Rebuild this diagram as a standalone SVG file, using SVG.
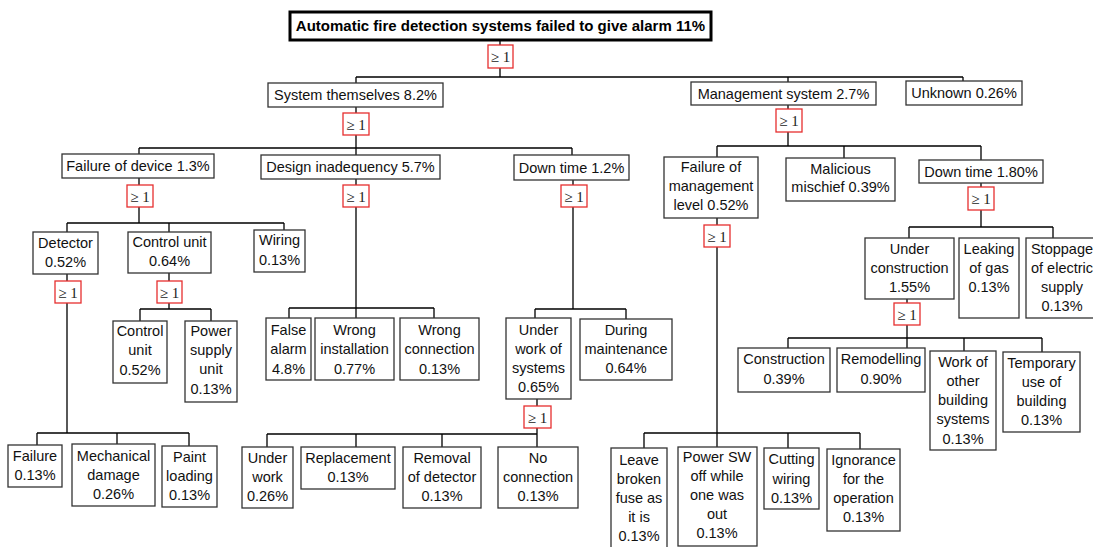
<svg xmlns="http://www.w3.org/2000/svg" width="1093" height="547" viewBox="0 0 1093 547">
<style>
.bg{fill:#fff}
.box{fill:#fff;stroke:#333;stroke-width:1.3}
.top{fill:#fff;stroke:#000;stroke-width:3}
.gate{fill:#fff;stroke:#e62e2e;stroke-width:1.3}
.ln{fill:none;stroke:#000;stroke-width:1.3}
text{font-family:"Liberation Sans",Arial,sans-serif;font-size:14.5px;text-anchor:middle;fill:#111}
.tt{font-weight:bold;font-size:15px;fill:#000}
.gt{font-family:"Liberation Serif","Times New Roman",serif;font-size:15px;fill:#222}
</style>
<rect class="bg" x="0" y="0" width="1093" height="547"/>
<g id="connectors">
<path class="ln" d="M500,40V45M500,68V77M356,77H963M356,77V83M788,77V82M963,77V81"/>
<path class="ln" d="M356,107V113M356,135V148M139,148H572M139,148V154M356,148V155M572,148V155"/>
<path class="ln" d="M788,105V109M788,132V146M717,146H981M717,146V157M844,146V158M981,146V160"/>
<path class="ln" d="M139,178V185M139,207V223M67,223H284M67,223V232M169,223V232M284,223V230"/>
<path class="ln" d="M356,179V185M356,207V318M289,308H434M289,308V318M434,308V318"/>
<path class="ln" d="M573,180V185M573,207V309M535,309H626M535,309V318M626,309V319"/>
<path class="ln" d="M717,218V225M717,247V447M644,433H860M644,433V448M788,433V448M860,433V449"/>
<path class="ln" d="M981,183V187M981,210V227M909,227H1053M909,227V238M1053,227V238"/>
<path class="ln" d="M907,299V303M907,325V348M788,338H1042M788,338V348M964,338V351M1042,338V352"/>
<path class="ln" d="M67,274V281M67,303V433M37,433H189M37,433V445M117,433V444M189,433V446"/>
<path class="ln" d="M169,273V281M169,303V309M140,309H211M140,309V321M211,309V321"/>
<path class="ln" d="M537,399V406M537,428V447M267,434H537M267,434V447M356,434V447M442,434V447"/>
</g>
<g id="gates">
<g id="g0"><rect class="gate" x="488" y="45" width="25" height="23"/><text class="gt" x="500.5" y="62">≥ 1</text></g>
<g id="g1"><rect class="gate" x="343" y="113" width="26" height="22"/><text class="gt" x="356" y="130">≥ 1</text></g>
<g id="g2"><rect class="gate" x="776" y="109" width="26" height="23"/><text class="gt" x="789" y="126">≥ 1</text></g>
<g id="g3"><rect class="gate" x="127" y="185" width="26" height="22"/><text class="gt" x="140" y="202">≥ 1</text></g>
<g id="g4"><rect class="gate" x="343" y="185" width="26" height="22"/><text class="gt" x="356" y="202">≥ 1</text></g>
<g id="g5"><rect class="gate" x="561" y="185" width="26" height="22"/><text class="gt" x="574" y="202">≥ 1</text></g>
<g id="g6"><rect class="gate" x="704" y="225" width="26" height="22"/><text class="gt" x="717" y="242">≥ 1</text></g>
<g id="g7"><rect class="gate" x="968" y="187" width="26" height="23"/><text class="gt" x="981" y="204">≥ 1</text></g>
<g id="g8"><rect class="gate" x="894" y="303" width="26" height="22"/><text class="gt" x="907" y="320">≥ 1</text></g>
<g id="g9"><rect class="gate" x="55" y="281" width="26" height="22"/><text class="gt" x="68" y="298">≥ 1</text></g>
<g id="g10"><rect class="gate" x="157" y="281" width="25" height="22"/><text class="gt" x="169.5" y="298">≥ 1</text></g>
<g id="g11"><rect class="gate" x="524" y="406" width="27" height="22"/><text class="gt" x="537.5" y="423">≥ 1</text></g>
</g>
<g id="n0"><rect class="top" x="290" y="12" width="421" height="28"/><text class="tt" x="500.5" y="31">Automatic fire detection systems failed to give alarm 11%</text></g>
<g id="n1"><rect class="box" x="268" y="83" width="175" height="24"/><text x="355.5" y="100">System themselves 8.2%</text></g>
<g id="n2"><rect class="box" x="691" y="82" width="185" height="23"/><text x="783.5" y="99">Management system 2.7%</text></g>
<g id="n3"><rect class="box" x="906" y="81" width="116" height="24"/><text x="964" y="98">Unknown 0.26%</text></g>
<g id="n4"><rect class="box" x="62" y="154" width="152" height="24"/><text x="138" y="171">Failure of device 1.3%</text></g>
<g id="n5"><rect class="box" x="261" y="155" width="179" height="24"/><text x="350.5" y="172">Design inadequency 5.7%</text></g>
<g id="n6"><rect class="box" x="514" y="155" width="115" height="25"/><text x="571.5" y="172.5">Down time 1.2%</text></g>
<g id="n7"><rect class="box" x="664" y="157" width="94" height="61"/><text x="711" y="172">Failure of</text><text x="711" y="191">management</text><text x="711" y="210">level 0.52%</text></g>
<g id="n8"><rect class="box" x="786" y="158" width="109" height="43"/><text x="840.5" y="173.5">Malicious</text><text x="840.5" y="192">mischief 0.39%</text></g>
<g id="n9"><rect class="box" x="919" y="160" width="124" height="23"/><text x="981" y="177">Down time 1.80%</text></g>
<g id="n10"><rect class="box" x="33" y="232" width="65" height="42"/><text x="65.5" y="247.5">Detector</text><text x="65.5" y="266.5">0.52%</text></g>
<g id="n11"><rect class="box" x="128" y="232" width="83" height="41"/><text x="169.5" y="246.5">Control unit</text><text x="169.5" y="266">0.64%</text></g>
<g id="n12"><rect class="box" x="254" y="230" width="51" height="42"/><text x="279.5" y="245">Wiring</text><text x="279.5" y="264.5">0.13%</text></g>
<g id="n13"><rect class="box" x="266" y="318" width="45" height="62"/><text x="288.5" y="335">False</text><text x="288.5" y="354">alarm</text><text x="288.5" y="373.5">4.8%</text></g>
<g id="n14"><rect class="box" x="315" y="318" width="79" height="62"/><text x="354.5" y="335">Wrong</text><text x="354.5" y="354">installation</text><text x="354.5" y="373.5">0.77%</text></g>
<g id="n15"><rect class="box" x="400" y="318" width="79" height="62"/><text x="439.5" y="335">Wrong</text><text x="439.5" y="354">connection</text><text x="439.5" y="373.5">0.13%</text></g>
<g id="n16"><rect class="box" x="506" y="318" width="65" height="81"/><text x="538.5" y="335">Under</text><text x="538.5" y="354">work of</text><text x="538.5" y="373">systems</text><text x="538.5" y="392">0.65%</text></g>
<g id="n17"><rect class="box" x="580" y="319" width="92" height="61"/><text x="626" y="335">During</text><text x="626" y="354">maintenance</text><text x="626" y="373">0.64%</text></g>
<g id="n18"><rect class="box" x="611" y="448" width="56" height="106"/><text x="639" y="465">Leave</text><text x="639" y="484">broken</text><text x="639" y="503">fuse as</text><text x="639" y="522">it is</text><text x="639" y="541">0.13%</text></g>
<g id="n19"><rect class="box" x="678" y="447" width="79" height="99"/><text x="717" y="462">Power SW</text><text x="717" y="481">off while</text><text x="717" y="500">one was</text><text x="717" y="519">out</text><text x="717" y="538">0.13%</text></g>
<g id="n20"><rect class="box" x="764" y="448" width="55" height="61"/><text x="791.5" y="464">Cutting</text><text x="791.5" y="483.5">wiring</text><text x="791.5" y="502.5">0.13%</text></g>
<g id="n21"><rect class="box" x="827" y="449" width="73" height="82"/><text x="863.5" y="465">Ignorance</text><text x="863.5" y="484">for the</text><text x="863.5" y="503">operation</text><text x="863.5" y="522">0.13%</text></g>
<g id="n22"><rect class="box" x="865" y="238" width="89" height="61"/><text x="909.5" y="253.5">Under</text><text x="909.5" y="272.5">construction</text><text x="909.5" y="291.5">1.55%</text></g>
<g id="n23"><rect class="box" x="959" y="238" width="60" height="80"/><text x="989" y="253.5">Leaking</text><text x="989" y="272.5">of gas</text><text x="989" y="291.5">0.13%</text></g>
<g id="n24"><rect class="box" x="1026" y="238" width="72" height="80"/><text x="1062" y="253.5">Stoppage</text><text x="1062" y="272.5">of electric</text><text x="1062" y="291.5">supply</text><text x="1062" y="310.5">0.13%</text></g>
<g id="n25"><rect class="box" x="738" y="348" width="92" height="44"/><text x="784" y="364">Construction</text><text x="784" y="384">0.39%</text></g>
<g id="n26"><rect class="box" x="837" y="348" width="88" height="44"/><text x="881" y="364">Remodelling</text><text x="881" y="384">0.90%</text></g>
<g id="n27"><rect class="box" x="930" y="351" width="66" height="99"/><text x="963" y="367">Work of</text><text x="963" y="386">other</text><text x="963" y="405">building</text><text x="963" y="424">systems</text><text x="963" y="443.5">0.13%</text></g>
<g id="n28"><rect class="box" x="1003" y="352" width="77" height="80"/><text x="1041.5" y="368">Temporary</text><text x="1041.5" y="387">use of</text><text x="1041.5" y="406">building</text><text x="1041.5" y="425">0.13%</text></g>
<g id="n29"><rect class="box" x="8" y="445" width="54" height="42"/><text x="35" y="461">Failure</text><text x="35" y="479.5">0.13%</text></g>
<g id="n30"><rect class="box" x="72" y="444" width="83" height="62"/><text x="113.5" y="461">Mechanical</text><text x="113.5" y="480">damage</text><text x="113.5" y="499">0.26%</text></g>
<g id="n31"><rect class="box" x="162" y="446" width="55" height="61"/><text x="189.5" y="462">Paint</text><text x="189.5" y="481">loading</text><text x="189.5" y="500">0.13%</text></g>
<g id="n32"><rect class="box" x="113" y="321" width="54" height="62"/><text x="140" y="336">Control</text><text x="140" y="355">unit</text><text x="140" y="374.5">0.52%</text></g>
<g id="n33"><rect class="box" x="185" y="321" width="52" height="81"/><text x="211" y="336">Power</text><text x="211" y="355">supply</text><text x="211" y="374">unit</text><text x="211" y="394">0.13%</text></g>
<g id="n34"><rect class="box" x="242" y="447" width="51" height="61"/><text x="267.5" y="462.5">Under</text><text x="267.5" y="481.5">work</text><text x="267.5" y="500.5">0.26%</text></g>
<g id="n35"><rect class="box" x="301" y="447" width="94" height="42"/><text x="348" y="462.5">Replacement</text><text x="348" y="481.5">0.13%</text></g>
<g id="n36"><rect class="box" x="403" y="447" width="78" height="61"/><text x="442" y="462.5">Removal</text><text x="442" y="481.5">of detector</text><text x="442" y="500.5">0.13%</text></g>
<g id="n37"><rect class="box" x="498" y="447" width="80" height="61"/><text x="538" y="462.5">No</text><text x="538" y="481.5">connection</text><text x="538" y="500.5">0.13%</text></g>
</svg>
